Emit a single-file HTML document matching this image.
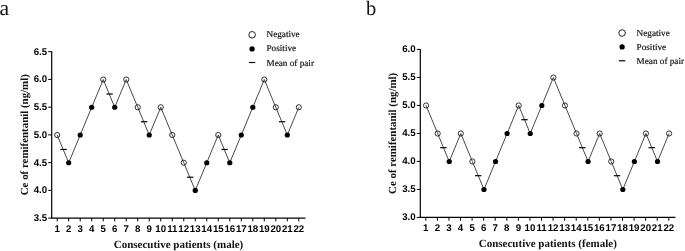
<!DOCTYPE html>
<html><head><meta charset="utf-8"><title>Chart</title>
<style>
html,body{margin:0;padding:0;background:#fff;}
svg{display:block;}
text{text-rendering:geometricPrecision;}
.tk{font-family:"Liberation Sans",sans-serif;font-weight:bold;font-size:9.7px;fill:#000;}
.ttl{font-family:"Liberation Serif",serif;font-weight:bold;font-size:11px;fill:#111;}
.yttl{font-family:"Liberation Serif",serif;font-weight:bold;font-size:10.9px;fill:#111;}
.lg{font-family:"Liberation Serif",serif;font-size:9.2px;fill:#111;stroke:#111;stroke-width:0.18px;}
.ltr{font-family:"Liberation Serif",serif;fill:#111;}
</style></head><body>
<div style="will-change:transform;width:685px;height:251px"><svg width="685" height="251" viewBox="0 0 685 251">
<path d="M51.70 51.20V218.60" stroke="#000" stroke-width="1.2" fill="none"/>
<path d="M51.20 218.10H305.40" stroke="#000" stroke-width="1.2" fill="none"/>
<path d="M48.20 218.10H51.70" stroke="#000" stroke-width="1"/>
<text x="47.10" y="221.10" text-anchor="end" class="tk">3.5</text>
<path d="M48.20 190.37H51.70" stroke="#000" stroke-width="1"/>
<text x="47.10" y="193.37" text-anchor="end" class="tk">4.0</text>
<path d="M48.20 162.63H51.70" stroke="#000" stroke-width="1"/>
<text x="47.10" y="165.63" text-anchor="end" class="tk">4.5</text>
<path d="M48.20 134.90H51.70" stroke="#000" stroke-width="1"/>
<text x="47.10" y="137.90" text-anchor="end" class="tk">5.0</text>
<path d="M48.20 107.17H51.70" stroke="#000" stroke-width="1"/>
<text x="47.10" y="110.17" text-anchor="end" class="tk">5.5</text>
<path d="M48.20 79.43H51.70" stroke="#000" stroke-width="1"/>
<text x="47.10" y="82.43" text-anchor="end" class="tk">6.0</text>
<path d="M48.20 51.70H51.70" stroke="#000" stroke-width="1"/>
<text x="47.10" y="54.70" text-anchor="end" class="tk">6.5</text>
<path d="M57.20 218.10V221.40" stroke="#000" stroke-width="1"/>
<text x="57.20" y="231.70" text-anchor="middle" class="tk">1</text>
<path d="M68.70 218.10V221.40" stroke="#000" stroke-width="1"/>
<text x="68.70" y="231.70" text-anchor="middle" class="tk">2</text>
<path d="M80.21 218.10V221.40" stroke="#000" stroke-width="1"/>
<text x="80.21" y="231.70" text-anchor="middle" class="tk">3</text>
<path d="M91.72 218.10V221.40" stroke="#000" stroke-width="1"/>
<text x="91.72" y="231.70" text-anchor="middle" class="tk">4</text>
<path d="M103.22 218.10V221.40" stroke="#000" stroke-width="1"/>
<text x="103.22" y="231.70" text-anchor="middle" class="tk">5</text>
<path d="M114.73 218.10V221.40" stroke="#000" stroke-width="1"/>
<text x="114.73" y="231.70" text-anchor="middle" class="tk">6</text>
<path d="M126.23 218.10V221.40" stroke="#000" stroke-width="1"/>
<text x="126.23" y="231.70" text-anchor="middle" class="tk">7</text>
<path d="M137.74 218.10V221.40" stroke="#000" stroke-width="1"/>
<text x="137.74" y="231.70" text-anchor="middle" class="tk">8</text>
<path d="M149.24 218.10V221.40" stroke="#000" stroke-width="1"/>
<text x="149.24" y="231.70" text-anchor="middle" class="tk">9</text>
<path d="M160.75 218.10V221.40" stroke="#000" stroke-width="1"/>
<text x="160.75" y="231.70" text-anchor="middle" class="tk">10</text>
<path d="M172.25 218.10V221.40" stroke="#000" stroke-width="1"/>
<text x="172.25" y="231.70" text-anchor="middle" class="tk">11</text>
<path d="M183.75 218.10V221.40" stroke="#000" stroke-width="1"/>
<text x="183.75" y="231.70" text-anchor="middle" class="tk">12</text>
<path d="M195.26 218.10V221.40" stroke="#000" stroke-width="1"/>
<text x="195.26" y="231.70" text-anchor="middle" class="tk">13</text>
<path d="M206.76 218.10V221.40" stroke="#000" stroke-width="1"/>
<text x="206.76" y="231.70" text-anchor="middle" class="tk">14</text>
<path d="M218.27 218.10V221.40" stroke="#000" stroke-width="1"/>
<text x="218.27" y="231.70" text-anchor="middle" class="tk">15</text>
<path d="M229.78 218.10V221.40" stroke="#000" stroke-width="1"/>
<text x="229.78" y="231.70" text-anchor="middle" class="tk">16</text>
<path d="M241.28 218.10V221.40" stroke="#000" stroke-width="1"/>
<text x="241.28" y="231.70" text-anchor="middle" class="tk">17</text>
<path d="M252.79 218.10V221.40" stroke="#000" stroke-width="1"/>
<text x="252.79" y="231.70" text-anchor="middle" class="tk">18</text>
<path d="M264.29 218.10V221.40" stroke="#000" stroke-width="1"/>
<text x="264.29" y="231.70" text-anchor="middle" class="tk">19</text>
<path d="M275.80 218.10V221.40" stroke="#000" stroke-width="1"/>
<text x="275.80" y="231.70" text-anchor="middle" class="tk">20</text>
<path d="M287.30 218.10V221.40" stroke="#000" stroke-width="1"/>
<text x="287.30" y="231.70" text-anchor="middle" class="tk">21</text>
<path d="M298.81 218.10V221.40" stroke="#000" stroke-width="1"/>
<text x="298.81" y="231.70" text-anchor="middle" class="tk">22</text>
<polyline points="57.20,135.00 68.70,162.73 80.21,135.00 91.72,107.27 103.22,79.53 114.73,107.27 126.23,79.53 137.74,107.27 149.24,135.00 160.75,107.27 172.25,135.00 183.75,162.73 195.26,190.47 206.76,162.73 218.27,135.00 229.78,162.73 241.28,135.00 252.79,107.27 264.29,79.53 275.80,107.27 287.30,135.00 298.81,107.27" fill="none" stroke="#1a1a1a" stroke-width="0.8"/>
<circle cx="57.20" cy="135.00" r="2.6" fill="none" stroke="#1a1a1a" stroke-width="0.9"/>
<circle cx="68.70" cy="162.73" r="2.6" fill="#000"/>
<circle cx="80.21" cy="135.00" r="2.6" fill="#000"/>
<circle cx="91.72" cy="107.27" r="2.6" fill="#000"/>
<circle cx="103.22" cy="79.53" r="2.6" fill="none" stroke="#1a1a1a" stroke-width="0.9"/>
<circle cx="114.73" cy="107.27" r="2.6" fill="#000"/>
<circle cx="126.23" cy="79.53" r="2.6" fill="none" stroke="#1a1a1a" stroke-width="0.9"/>
<circle cx="137.74" cy="107.27" r="2.6" fill="none" stroke="#1a1a1a" stroke-width="0.9"/>
<circle cx="149.24" cy="135.00" r="2.6" fill="#000"/>
<circle cx="160.75" cy="107.27" r="2.6" fill="none" stroke="#1a1a1a" stroke-width="0.9"/>
<circle cx="172.25" cy="135.00" r="2.6" fill="none" stroke="#1a1a1a" stroke-width="0.9"/>
<circle cx="183.75" cy="162.73" r="2.6" fill="none" stroke="#1a1a1a" stroke-width="0.9"/>
<circle cx="195.26" cy="190.47" r="2.6" fill="#000"/>
<circle cx="206.76" cy="162.73" r="2.6" fill="#000"/>
<circle cx="218.27" cy="135.00" r="2.6" fill="none" stroke="#1a1a1a" stroke-width="0.9"/>
<circle cx="229.78" cy="162.73" r="2.6" fill="#000"/>
<circle cx="241.28" cy="135.00" r="2.6" fill="#000"/>
<circle cx="252.79" cy="107.27" r="2.6" fill="#000"/>
<circle cx="264.29" cy="79.53" r="2.6" fill="none" stroke="#1a1a1a" stroke-width="0.9"/>
<circle cx="275.80" cy="107.27" r="2.6" fill="none" stroke="#1a1a1a" stroke-width="0.9"/>
<circle cx="287.30" cy="135.00" r="2.6" fill="#000"/>
<circle cx="298.81" cy="107.27" r="2.6" fill="none" stroke="#1a1a1a" stroke-width="0.9"/>
<path d="M60.35 149.47H66.75" stroke="#000" stroke-width="1.2"/>
<path d="M106.37 94.00H112.77" stroke="#000" stroke-width="1.2"/>
<path d="M140.89 121.73H147.29" stroke="#000" stroke-width="1.2"/>
<path d="M186.91 177.20H193.31" stroke="#000" stroke-width="1.2"/>
<path d="M221.42 149.47H227.82" stroke="#000" stroke-width="1.2"/>
<path d="M278.95 121.73H285.35" stroke="#000" stroke-width="1.2"/>
<text x="178.50" y="248.10" text-anchor="middle" class="ttl">Consecutive patients (male)</text>
<text transform="translate(27.70 134.70) rotate(-90)" text-anchor="middle" class="yttl">Ce of remifentanil (ng/ml)</text>
<circle cx="252.10" cy="34.80" r="3.3" fill="#fff" stroke="#222" stroke-width="1.0"/>
<circle cx="252.10" cy="48.90" r="2.65" fill="#000"/>
<path d="M248.90 62.50H255.30" stroke="#000" stroke-width="1.2"/>
<text x="266.50" y="37.30" class="lg">Negative</text>
<text x="266.50" y="51.10" class="lg">Positive</text>
<text x="266.50" y="65.60" class="lg">Mean of pair</text>
<text x="-0.50" y="14.60" class="ltr" font-size="21.6">a</text>
<path d="M420.30 48.90V217.90" stroke="#000" stroke-width="1.2" fill="none"/>
<path d="M419.80 217.40H675.40" stroke="#000" stroke-width="1.2" fill="none"/>
<path d="M416.80 217.40H420.30" stroke="#000" stroke-width="1"/>
<text x="415.70" y="220.40" text-anchor="end" class="tk">3.0</text>
<path d="M416.80 189.40H420.30" stroke="#000" stroke-width="1"/>
<text x="415.70" y="192.40" text-anchor="end" class="tk">3.5</text>
<path d="M416.80 161.40H420.30" stroke="#000" stroke-width="1"/>
<text x="415.70" y="164.40" text-anchor="end" class="tk">4.0</text>
<path d="M416.80 133.40H420.30" stroke="#000" stroke-width="1"/>
<text x="415.70" y="136.40" text-anchor="end" class="tk">4.5</text>
<path d="M416.80 105.40H420.30" stroke="#000" stroke-width="1"/>
<text x="415.70" y="108.40" text-anchor="end" class="tk">5.0</text>
<path d="M416.80 77.40H420.30" stroke="#000" stroke-width="1"/>
<text x="415.70" y="80.40" text-anchor="end" class="tk">5.5</text>
<path d="M416.80 49.40H420.30" stroke="#000" stroke-width="1"/>
<text x="415.70" y="52.40" text-anchor="end" class="tk">6.0</text>
<path d="M425.80 217.40V220.70" stroke="#000" stroke-width="1"/>
<text x="425.80" y="231.00" text-anchor="middle" class="tk">1</text>
<path d="M437.37 217.40V220.70" stroke="#000" stroke-width="1"/>
<text x="437.37" y="231.00" text-anchor="middle" class="tk">2</text>
<path d="M448.94 217.40V220.70" stroke="#000" stroke-width="1"/>
<text x="448.94" y="231.00" text-anchor="middle" class="tk">3</text>
<path d="M460.51 217.40V220.70" stroke="#000" stroke-width="1"/>
<text x="460.51" y="231.00" text-anchor="middle" class="tk">4</text>
<path d="M472.08 217.40V220.70" stroke="#000" stroke-width="1"/>
<text x="472.08" y="231.00" text-anchor="middle" class="tk">5</text>
<path d="M483.66 217.40V220.70" stroke="#000" stroke-width="1"/>
<text x="483.66" y="231.00" text-anchor="middle" class="tk">6</text>
<path d="M495.23 217.40V220.70" stroke="#000" stroke-width="1"/>
<text x="495.23" y="231.00" text-anchor="middle" class="tk">7</text>
<path d="M506.80 217.40V220.70" stroke="#000" stroke-width="1"/>
<text x="506.80" y="231.00" text-anchor="middle" class="tk">8</text>
<path d="M518.37 217.40V220.70" stroke="#000" stroke-width="1"/>
<text x="518.37" y="231.00" text-anchor="middle" class="tk">9</text>
<path d="M529.94 217.40V220.70" stroke="#000" stroke-width="1"/>
<text x="529.94" y="231.00" text-anchor="middle" class="tk">10</text>
<path d="M541.51 217.40V220.70" stroke="#000" stroke-width="1"/>
<text x="541.51" y="231.00" text-anchor="middle" class="tk">11</text>
<path d="M553.08 217.40V220.70" stroke="#000" stroke-width="1"/>
<text x="553.08" y="231.00" text-anchor="middle" class="tk">12</text>
<path d="M564.65 217.40V220.70" stroke="#000" stroke-width="1"/>
<text x="564.65" y="231.00" text-anchor="middle" class="tk">13</text>
<path d="M576.22 217.40V220.70" stroke="#000" stroke-width="1"/>
<text x="576.22" y="231.00" text-anchor="middle" class="tk">14</text>
<path d="M587.79 217.40V220.70" stroke="#000" stroke-width="1"/>
<text x="587.79" y="231.00" text-anchor="middle" class="tk">15</text>
<path d="M599.37 217.40V220.70" stroke="#000" stroke-width="1"/>
<text x="599.37" y="231.00" text-anchor="middle" class="tk">16</text>
<path d="M610.94 217.40V220.70" stroke="#000" stroke-width="1"/>
<text x="610.94" y="231.00" text-anchor="middle" class="tk">17</text>
<path d="M622.51 217.40V220.70" stroke="#000" stroke-width="1"/>
<text x="622.51" y="231.00" text-anchor="middle" class="tk">18</text>
<path d="M634.08 217.40V220.70" stroke="#000" stroke-width="1"/>
<text x="634.08" y="231.00" text-anchor="middle" class="tk">19</text>
<path d="M645.65 217.40V220.70" stroke="#000" stroke-width="1"/>
<text x="645.65" y="231.00" text-anchor="middle" class="tk">20</text>
<path d="M657.22 217.40V220.70" stroke="#000" stroke-width="1"/>
<text x="657.22" y="231.00" text-anchor="middle" class="tk">21</text>
<path d="M668.79 217.40V220.70" stroke="#000" stroke-width="1"/>
<text x="668.79" y="231.00" text-anchor="middle" class="tk">22</text>
<polyline points="426.10,105.50 437.67,133.50 449.24,161.50 460.81,133.50 472.38,161.50 483.96,189.50 495.53,161.50 507.10,133.50 518.67,105.50 530.24,133.50 541.81,105.50 553.38,77.50 564.95,105.50 576.52,133.50 588.09,161.50 599.66,133.50 611.24,161.50 622.81,189.50 634.38,161.50 645.95,133.50 657.52,161.50 669.09,133.50" fill="none" stroke="#1a1a1a" stroke-width="0.8"/>
<circle cx="426.10" cy="105.50" r="2.6" fill="none" stroke="#1a1a1a" stroke-width="0.9"/>
<circle cx="437.67" cy="133.50" r="2.6" fill="none" stroke="#1a1a1a" stroke-width="0.9"/>
<circle cx="449.24" cy="161.50" r="2.6" fill="#000"/>
<circle cx="460.81" cy="133.50" r="2.6" fill="none" stroke="#1a1a1a" stroke-width="0.9"/>
<circle cx="472.38" cy="161.50" r="2.6" fill="none" stroke="#1a1a1a" stroke-width="0.9"/>
<circle cx="483.96" cy="189.50" r="2.6" fill="#000"/>
<circle cx="495.53" cy="161.50" r="2.6" fill="#000"/>
<circle cx="507.10" cy="133.50" r="2.6" fill="#000"/>
<circle cx="518.67" cy="105.50" r="2.6" fill="none" stroke="#1a1a1a" stroke-width="0.9"/>
<circle cx="530.24" cy="133.50" r="2.6" fill="#000"/>
<circle cx="541.81" cy="105.50" r="2.6" fill="#000"/>
<circle cx="553.38" cy="77.50" r="2.6" fill="none" stroke="#1a1a1a" stroke-width="0.9"/>
<circle cx="564.95" cy="105.50" r="2.6" fill="none" stroke="#1a1a1a" stroke-width="0.9"/>
<circle cx="576.52" cy="133.50" r="2.6" fill="none" stroke="#1a1a1a" stroke-width="0.9"/>
<circle cx="588.09" cy="161.50" r="2.6" fill="#000"/>
<circle cx="599.66" cy="133.50" r="2.6" fill="none" stroke="#1a1a1a" stroke-width="0.9"/>
<circle cx="611.24" cy="161.50" r="2.6" fill="none" stroke="#1a1a1a" stroke-width="0.9"/>
<circle cx="622.81" cy="189.50" r="2.6" fill="#000"/>
<circle cx="634.38" cy="161.50" r="2.6" fill="#000"/>
<circle cx="645.95" cy="133.50" r="2.6" fill="none" stroke="#1a1a1a" stroke-width="0.9"/>
<circle cx="657.52" cy="161.50" r="2.6" fill="#000"/>
<circle cx="669.09" cy="133.50" r="2.6" fill="none" stroke="#1a1a1a" stroke-width="0.9"/>
<path d="M440.26 147.70H446.66" stroke="#000" stroke-width="1.2"/>
<path d="M474.97 175.70H481.37" stroke="#000" stroke-width="1.2"/>
<path d="M521.25 119.70H527.65" stroke="#000" stroke-width="1.2"/>
<path d="M579.11 147.70H585.51" stroke="#000" stroke-width="1.2"/>
<path d="M613.82 175.70H620.22" stroke="#000" stroke-width="1.2"/>
<path d="M648.53 147.70H654.93" stroke="#000" stroke-width="1.2"/>
<text x="547.80" y="247.00" text-anchor="middle" class="ttl">Consecutive patients (female)</text>
<text transform="translate(396.00 133.35) rotate(-90)" text-anchor="middle" class="yttl">Ce of remifentanil (ng/ml)</text>
<circle cx="622.10" cy="33.00" r="3.3" fill="#fff" stroke="#222" stroke-width="1.0"/>
<circle cx="622.10" cy="46.90" r="2.65" fill="#000"/>
<path d="M618.90 60.80H625.30" stroke="#000" stroke-width="1.2"/>
<text x="636.60" y="35.60" class="lg">Negative</text>
<text x="636.60" y="49.60" class="lg">Positive</text>
<text x="636.60" y="64.10" class="lg">Mean of pair</text>
<text x="366.00" y="14.60" class="ltr" font-size="20.5">b</text>
</svg></div>
</body></html>
